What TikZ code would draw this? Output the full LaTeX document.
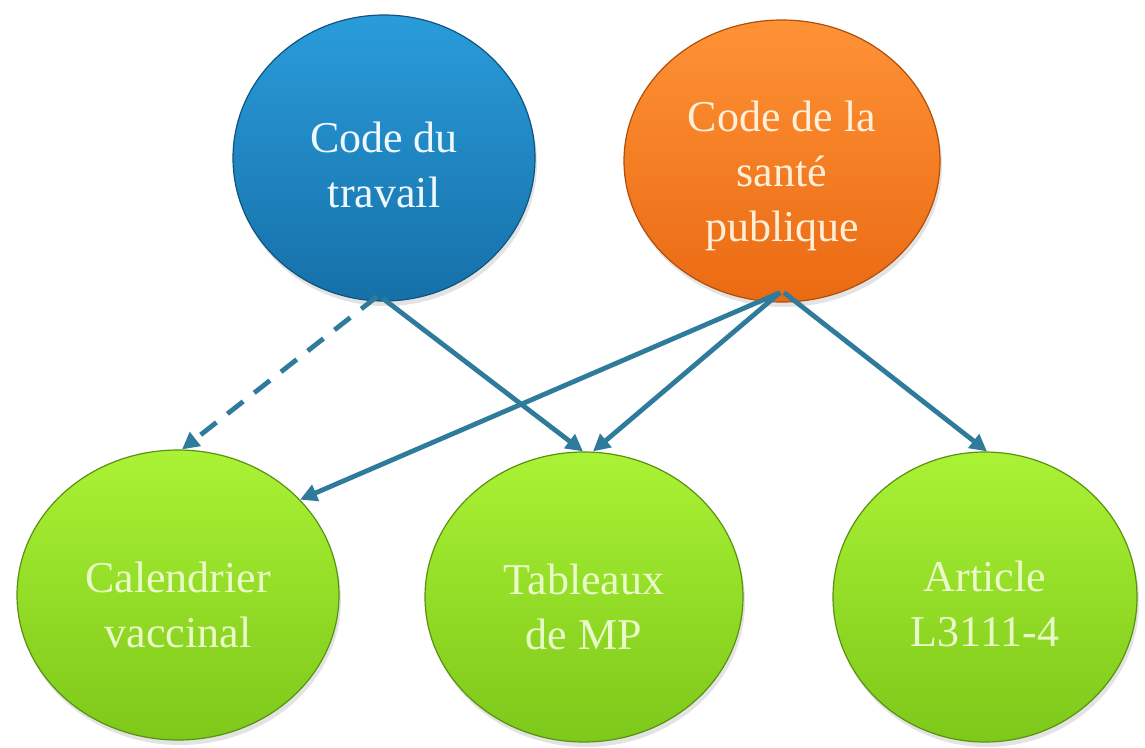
\documentclass[tikz,border=0pt]{standalone}
\usepackage{fontspec}
\setmainfont{Liberation Serif}
\usetikzlibrary{shapes.geometric,arrows.meta,shadows}
\definecolor{arrowc}{HTML}{2E7B9C}
\definecolor{bluetop}{HTML}{2A9CDA}
\definecolor{bluebot}{HTML}{1670A8}
\definecolor{blueedge}{HTML}{0F5580}
\definecolor{orangetop}{HTML}{FF9236}
\definecolor{orangebot}{HTML}{EA6A12}
\definecolor{orangeedge}{HTML}{B04E0C}
\definecolor{greentop}{HTML}{AAF235}
\definecolor{greenbot}{HTML}{7DC81A}
\definecolor{greenedge}{HTML}{5A9210}
\definecolor{txtblue}{HTML}{EEF8FF}
\definecolor{txtorange}{HTML}{FFEFD8}
\definecolor{txtgreen}{HTML}{EAF9C8}
\begin{document}
\begin{tikzpicture}[x=1pt,y=-1pt,
  bubble/.style={ellipse, inner sep=0pt, line width=1.2pt,
    drop shadow={opacity=0.22, shadow xshift=2pt, shadow yshift=-5pt}},
  bluebub/.style={bubble, draw=blueedge, top color=bluetop, bottom color=bluebot},
  orangebub/.style={bubble, draw=orangeedge, top color=orangetop, bottom color=orangebot},
  greenbub/.style={bubble, draw=greenedge, top color=greentop, bottom color=greenbot},
  lbl/.style={align=center, inner sep=0pt, font=\fontsize{44}{55}\selectfont},
  link/.style={draw=arrowc, line width=4.8pt, -{Triangle[length=17pt,width=17pt]}},
  dashlink/.style={link, dash pattern=on 20pt off 14pt}
]
\useasboundingbox (0,0) rectangle (1145,747);
\fill[white] (0,0) rectangle (1145,747);

\node[bluebub, minimum width=302pt, minimum height=286pt] (blue) at (384,158) {};
\node[orangebub, minimum width=316pt, minimum height=282pt] (orange) at (782,161) {};
\node[greenbub, minimum width=322pt, minimum height=290pt] (g1) at (178,595) {};
\node[greenbub, minimum width=318pt, minimum height=290pt] (g2) at (584,597) {};
\node[greenbub, minimum width=304pt, minimum height=290pt] (g3) at (985,597) {};

\node[lbl, text=txtblue] (bluet) at ([yshift=-7pt]blue.center) {Code du\\travail};
\node[lbl, text=txtorange] (oranget) at ([yshift=-15pt]orange.center) {Code de la\\santé\\publique};
\node[lbl, text=txtgreen] (g1t) at ([yshift=-10pt]g1.center) {Calendrier\\vaccinal};
\node[lbl, text=txtgreen] (g2t) at ([yshift=-10pt]g2.center) {Tableaux\\de MP};
\node[lbl, text=txtgreen] (g3t) at ([yshift=-7pt]g3.center) {Article\\L3111-4};

\draw[link] ([xshift=-1pt,yshift=3pt]blue.south) -- ([xshift=-1pt]g2.north);
\draw[dashlink] ([xshift=-7pt,yshift=5pt]blue.south) -- ([xshift=4pt]g1.north);
\draw[link] ([xshift=-2pt,yshift=10pt]orange.south) -- (g1.38);
\draw[link] ([xshift=-2pt,yshift=10pt]orange.south) -- ([xshift=9pt]g2.north);
\draw[link] ([xshift=2pt,yshift=10pt]orange.south) -- ([xshift=2pt]g3.north);
\end{tikzpicture}
\end{document}
